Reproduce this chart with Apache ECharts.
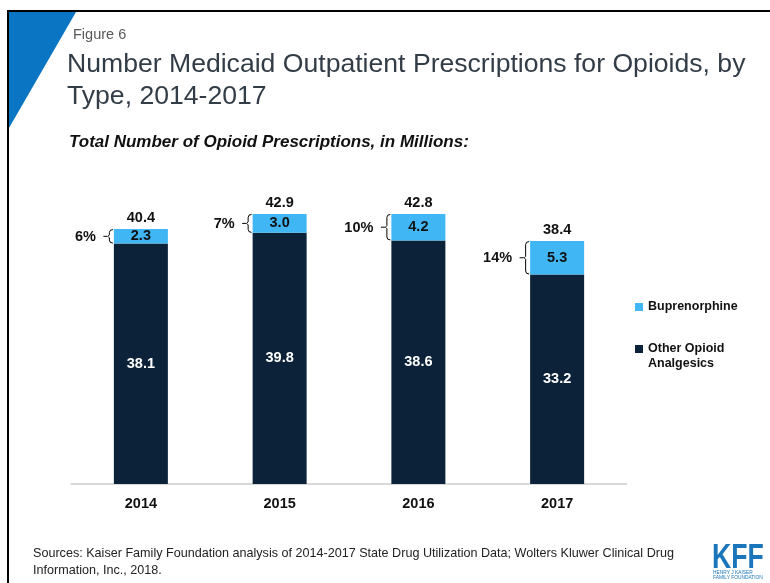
<!DOCTYPE html>
<html>
<head>
<meta charset="utf-8">
<script src="https://cdn.jsdelivr.net/npm/echarts@6/dist/echarts.min.js"></script>
<style>
  html, body { margin: 0; padding: 0; background: #fff; }
  #chart { width: 770px; height: 583px; }
</style>
</head>
<body>
<div id="chart"></div>
<script>
// Medicaid outpatient opioid prescriptions (millions), by type
const years = ['2014', '2015', '2016', '2017'];
const otherOpioids = [38.1, 39.8, 38.6, 33.2];
const buprenorphine = [2.3, 3.0, 4.2, 5.3];
const totals = [40.4, 42.9, 42.8, 38.4];
const buprenorphineShare = ['6%', '7%', '10%', '14%'];

const FONT = 'Arial, "Liberation Sans", Helvetica, sans-serif';
const NAVY = '#0b2239';
const SKY = '#41b6f4';
const LABEL_FONT = 'bold 14.5px ' + FONT;
const BAR_WIDTH = 54;

const chart = echarts.init(document.getElementById('chart'), null, { renderer: 'canvas' });

// Bracket + share label to the left of each bar, spanning the buprenorphine segment
function renderBrace(params, api) {
  const idx = api.value(0);
  const pTop = api.coord([idx, api.value(2)]);
  const pBot = api.coord([idx, api.value(1)]);
  const barLeft = pTop[0] - BAR_WIDTH / 2;
  const x = barLeft - 4.5;
  const top = pTop[1] + 0.5;
  const bot = pBot[1] - 0.5;
  const mid = (top + bot) / 2;
  const path = [
    'M', x + 3.5, top,
    'Q', x, top, x, top + 3,
    'L', x, mid - 1.5,
    'L', x - 1.5, mid,
    'L', x, mid + 1.5,
    'L', x, bot - 3,
    'Q', x, bot, x + 3.5, bot,
    'M', x - 2, mid,
    'L', x - 6, mid
  ].join(' ');
  return {
    type: 'group',
    children: [
      {
        type: 'path',
        shape: { pathData: path },
        style: { stroke: '#000', lineWidth: 1, fill: null }
      },
      {
        type: 'text',
        x: barLeft - 18,
        y: mid + 0.5,
        style: {
          text: buprenorphineShare[idx],
          font: LABEL_FONT,
          fill: '#111',
          align: 'right',
          verticalAlign: 'middle'
        }
      }
    ]
  };
}

// Total label above each stacked bar
function renderTotal(params, api) {
  const idx = api.value(0);
  const p = api.coord([idx, api.value(1)]);
  return {
    type: 'text',
    x: p[0],
    y: p[1] - 11,
    style: {
      text: totals[idx].toFixed(1),
      font: LABEL_FONT,
      fill: '#111',
      align: 'center',
      verticalAlign: 'middle'
    }
  };
}

const braceData = years.map((y, i) => [i, otherOpioids[i], otherOpioids[i] + buprenorphine[i]]);
const totalData = years.map((y, i) => [i, otherOpioids[i] + buprenorphine[i]]);

const option = {
  animation: false,
  backgroundColor: '#fff',
  grid: { left: 71.5, right: 143.5, top: 168.5, bottom: 99 },
  legend: {
    orient: 'vertical',
    left: 630,
    top: 294.5,
    itemWidth: 8,
    itemHeight: 8,
    itemGap: 12,
    icon: 'rect',
    data: ['Buprenorphine', 'Other Opioid Analgesics'],
    formatter: function (name) {
      // two-line entry; a blank first row keeps the swatch level with "Other Opioid"
      return name === 'Other Opioid Analgesics'
        ? '{gap| }\n{t|Other Opioid}\n{t|Analgesics}'
        : '{t|' + name + '}';
    },
    textStyle: {
      fontFamily: FONT, fontWeight: 'bold', fontSize: 12.5, color: '#111', lineHeight: 15,
      rich: {
        gap: { fontSize: 12.5, lineHeight: 15, height: 15 },
        t: { fontFamily: FONT, fontWeight: 'bold', fontSize: 12.5, color: '#111', lineHeight: 15 }
      }
    },
    selectedMode: false
  },
  xAxis: {
    type: 'category',
    data: years,
    axisLine: { lineStyle: { color: '#d9d9d9', width: 2 } },
    axisTick: { show: false },
    axisLabel: { fontFamily: FONT, fontWeight: 'bold', fontSize: 14.5, color: '#111', margin: 12 }
  },
  yAxis: {
    type: 'value',
    min: 0,
    max: 50,
    show: false,
    splitLine: { show: false }
  },
  series: [
    {
      name: 'Other Opioid Analgesics',
      type: 'bar',
      stack: 'rx',
      barWidth: BAR_WIDTH,
      data: otherOpioids,
      itemStyle: { color: NAVY },
      label: {
        show: true,
        position: 'inside',
        formatter: p => p.value.toFixed(1),
        fontFamily: FONT, fontWeight: 'bold', fontSize: 14.5, color: '#fff'
      }
    },
    {
      name: 'Buprenorphine',
      type: 'bar',
      stack: 'rx',
      barWidth: BAR_WIDTH,
      data: buprenorphine,
      itemStyle: { color: SKY },
      label: {
        show: true,
        position: 'inside',
        formatter: p => p.value.toFixed(1),
        fontFamily: FONT, fontWeight: 'bold', fontSize: 14.5, color: '#111'
      }
    },
    {
      type: 'custom',
      renderItem: renderBrace,
      data: braceData,
      silent: true,
      z: 5
    },
    {
      type: 'custom',
      renderItem: renderTotal,
      data: totalData,
      silent: true,
      z: 5
    }
  ],
  graphic: [
    // page frame
    { type: 'line', shape: { x1: 8, y1: 11, x2: 770, y2: 11 }, style: { stroke: '#000', lineWidth: 2 } },
    { type: 'line', shape: { x1: 8, y1: 10, x2: 8, y2: 583 }, style: { stroke: '#000', lineWidth: 2 } },
    // corner accent
    { type: 'polygon', shape: { points: [[9, 12], [76, 12], [9, 128]] }, style: { fill: '#0a75c2' } },
    { type: 'text', left: 73, top: 27, style: { text: 'Figure 6', font: '14.5px ' + FONT, fill: '#595959' } },
    {
      type: 'text', left: 67, top: 49,
      style: {
        text: 'Number Medicaid Outpatient Prescriptions for Opioids, by\nType, 2014-2017',
        font: '26.6px ' + FONT, fill: '#333d47', lineHeight: 32
      }
    },
    {
      type: 'text', left: 69, top: 134,
      style: {
        text: 'Total Number of Opioid Prescriptions, in Millions:',
        font: 'italic bold 17px ' + FONT, fill: '#111'
      }
    },
    {
      type: 'text', left: 33, top: 545,
      style: {
        text: 'Sources: Kaiser Family Foundation analysis of 2014-2017 State Drug Utilization Data; Wolters Kluwer Clinical Drug\nInformation, Inc., 2018.',
        font: '12.6px ' + FONT, fill: '#222', lineHeight: 17
      }
    },
    // KFF mark
    {
      type: 'text', x: 712, y: 558, scaleX: 0.76,
      style: { text: 'KFF', font: 'bold 35px ' + FONT, fill: '#1a75bb', verticalAlign: 'middle' }
    },
    {
      type: 'text', x: 713, y: 570, scaleX: 0.88,
      style: { text: 'HENRY J KAISER\nFAMILY FOUNDATION', font: '5.5px ' + FONT, fill: '#1a75bb', lineHeight: 5 }
    }
  ]
};

chart.setOption(option);
</script>
</body>
</html>
